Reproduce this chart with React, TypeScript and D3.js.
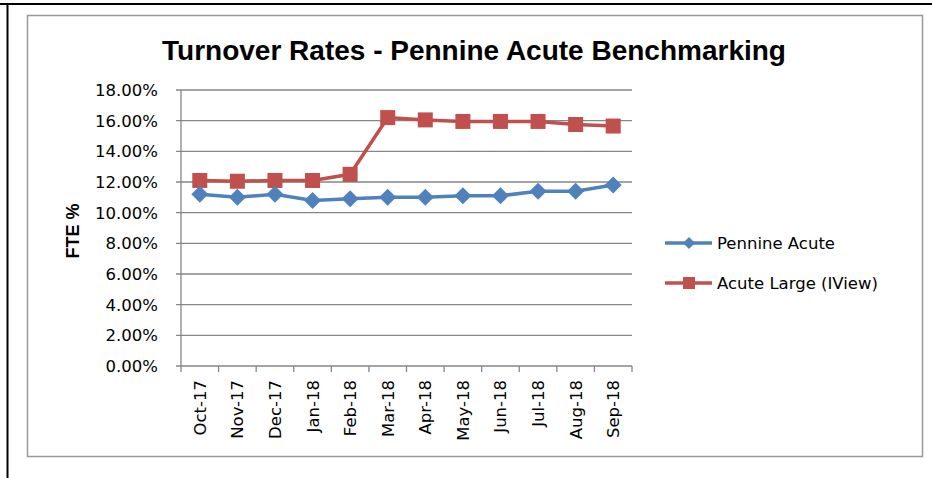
import * as d3 from "d3";

// chart data
const months = ["Oct-17", "Nov-17", "Dec-17", "Jan-18", "Feb-18", "Mar-18", "Apr-18", "May-18", "Jun-18", "Jul-18", "Aug-18", "Sep-18"];
const pennineAcute = [11.2, 11.0, 11.2, 10.8, 10.9, 11.0, 11.0, 11.1, 11.1, 11.4, 11.4, 11.8];
const acuteLarge = [12.1, 12.05, 12.1, 12.1, 12.5, 16.2, 16.05, 15.95, 15.95, 15.95, 15.75, 15.65];
const yTicks = [0, 2, 4, 6, 8, 10, 12, 14, 16, 18];

const BLUE = "#4F81BD";
const RED = "#C0504D";
const GRID = "#868686";
const FONT = "'DejaVu Sans', Verdana, sans-serif";

export default function App() {
  // plot area
  const left = 181, right = 632, top = 90, bottom = 366;

  const x = d3.scaleBand<string>().domain(months).range([left, right]);
  const y = d3.scaleLinear().domain([0, 18]).range([bottom, top]);
  const cx = (m: string) => (x(m) ?? 0) + x.bandwidth() / 2;

  const line = d3.line<number>()
    .x((_, i) => cx(months[i]))
    .y(d => y(d));

  const diamond = (px: number, py: number, r: number) =>
    `M${px},${py - r}L${px + r},${py}L${px},${py + r}L${px - r},${py}Z`;

  return (
    <svg width={932} height={478} style={{ position: "absolute", left: 0, top: 0, background: "#fff" }}>
      {/* outer frame */}
      <line x1={0} x2={932} y1={4} y2={4} stroke="#000" strokeWidth={2} />
      <line x1={7.5} x2={7.5} y1={3} y2={478} stroke="#000" strokeWidth={2} />
      {/* chart box */}
      <rect x={27.5} y={15.5} width={895} height={441} fill="#fff" stroke="#999" strokeWidth={1.5} />

      {/* title */}
      <text x={474} y={60} textAnchor="middle" fontFamily="'Liberation Sans Narrow', 'Liberation Sans', sans-serif"
        fontWeight="bold" fontSize={28}>Turnover Rates - Pennine Acute Benchmarking</text>

      {/* gridlines and y ticks */}
      {yTicks.map(t => (
        <g key={t}>
          <line x1={left - 5} x2={right} y1={y(t)} y2={y(t)} stroke={GRID} strokeWidth={1.3} />
          <text x={158} y={y(t) + 6} textAnchor="end" fontFamily={FONT} fontSize={16.5}>
            {t.toFixed(2) + "%"}
          </text>
        </g>
      ))}
      {/* axes */}
      <line x1={left} x2={left} y1={top} y2={bottom} stroke={GRID} strokeWidth={1.3} />
      {months.concat([""]).map((m, i) => {
        const xx = i < months.length ? (x(m) ?? 0) : right;
        return <line key={i} x1={xx} x2={xx} y1={bottom} y2={bottom + 6} stroke={GRID} strokeWidth={1.3} />;
      })}

      {/* x labels */}
      {months.map(m => (
        <text key={m} transform={`translate(${cx(m) + 6},${380}) rotate(-90)`} textAnchor="end"
          fontFamily={FONT} fontSize={16.5}>{m}</text>
      ))}

      {/* y axis title */}
      <text transform={`translate(79,231) rotate(-90)`} textAnchor="middle" fontFamily="'Liberation Sans Narrow', 'Liberation Sans', sans-serif"
        fontWeight="bold" fontSize={18}>FTE %</text>

      {/* series */}
      <path d={line(acuteLarge) ?? ""} fill="none" stroke={RED} strokeWidth={3.5} />
      {acuteLarge.map((v, i) => (
        <rect key={i} x={cx(months[i]) - 7.5} y={y(v) - 7.5} width={15} height={15} fill={RED} />
      ))}
      <path d={line(pennineAcute) ?? ""} fill="none" stroke={BLUE} strokeWidth={3.5} />
      {pennineAcute.map((v, i) => (
        <path key={i} d={diamond(cx(months[i]), y(v), 8.5)} fill={BLUE} />
      ))}

      {/* legend */}
      <line x1={665} x2={712} y1={243} y2={243} stroke={BLUE} strokeWidth={3.5} />
      <path d={diamond(689, 243, 6)} fill={BLUE} />
      <text x={717} y={249} fontFamily={FONT} fontSize={16.5}>Pennine Acute</text>
      <line x1={665} x2={712} y1={283} y2={283} stroke={RED} strokeWidth={3.5} />
      <rect x={683} y={277} width={12} height={12} fill={RED} />
      <text x={717} y={289} fontFamily={FONT} fontSize={16.5}>Acute Large (IView)</text>
    </svg>
  );
}
